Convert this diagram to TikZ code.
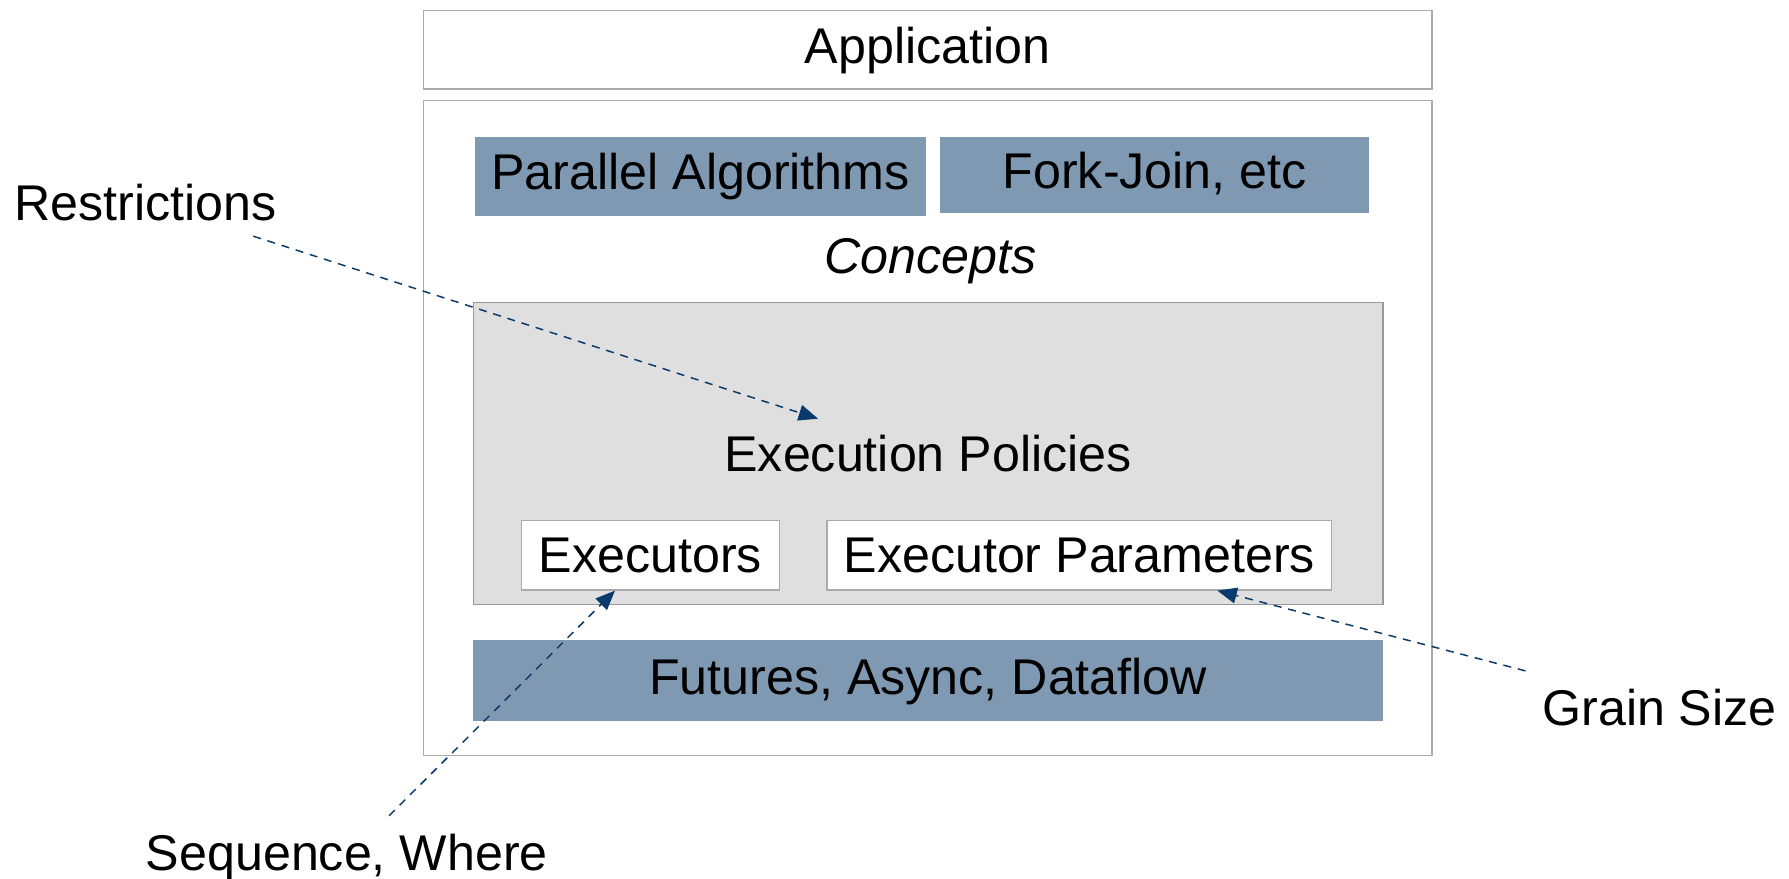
\documentclass[tikz,border=0pt]{standalone}
\usepackage{fontspec}
\setmainfont{Liberation Sans}
\usetikzlibrary{arrows.meta}
\definecolor{boxblue}{HTML}{7F99B3}
\definecolor{framegray}{HTML}{AAAAAA}
\definecolor{panelgray}{HTML}{DFDFDF}
\definecolor{panelframe}{HTML}{999999}
\definecolor{navy}{HTML}{0A3A6B}
\tikzset{
  txt/.style={font=\fontsize{44}{50}\selectfont, text height=33pt, text depth=9pt, inner sep=0pt, align=center},
  capmid/.style={text depth=2pt},
  framebox/.style={txt, draw=framegray, line width=1.3pt, fill=white},
  bluebox/.style={txt, fill=boxblue},
  panel/.style={txt, capmid, draw=panelframe, line width=1.3pt, fill=panelgray},
  conn/.style={draw=navy, line width=1.3pt, dash pattern=on 7pt off 6pt, -{Triangle[length=17pt,width=14pt]}}
}
\begin{document}
\begin{tikzpicture}[x=1pt,y=-1pt]
\useasboundingbox (0,0) rectangle (1568,770);
% application
\node[framebox, minimum width=884pt, minimum height=69pt] (app) at (813,43.5) {Application};
% outer frame
\node[framebox, minimum width=884pt, minimum height=574pt] (outer) at (813,375) {};
% top blue boxes
\node[bluebox, minimum width=396pt, minimum height=69pt] (palg) at (614,154.5) {Parallel Algorithms};
\node[bluebox, minimum width=376pt, minimum height=67pt] (fj) at (1012,153.5) {Fork-Join, etc};
% concepts
\node[txt, font=\fontsize{44}{50}\selectfont\itshape] (concepts) at (815.5,227.9) {Concepts};
% execution policies panel
\node[panel, minimum width=797pt, minimum height=265pt] (ep) at (813.5,397.5) {Execution Policies};
\node[framebox, capmid, minimum width=226pt, minimum height=61pt] (execs) at (570,486.5) {Executors};
\node[framebox, capmid, minimum width=442pt, minimum height=61pt] (exparams) at (946,486.5) {Executor Parameters};
% futures
\node[bluebox, minimum width=797pt, minimum height=71pt] (fut) at (813.5,596.5) {Futures, Async, Dataflow};
% outside labels
\node[txt] (restr) at (127.5,181.6) {Restrictions};
\node[txt] (seq) at (304,750.6) {Sequence, Where};
\node[txt] (grain) at (1454.5,623.5) {Grain Size};
% connectors
\coordinate (restrEnd) at (222,207);
\coordinate (seqEnd) at (341,715);
\coordinate (grainEnd) at (1337,588);
\coordinate (epTip) at (717,367);
\draw[conn] (restrEnd) -- (epTip);
\draw[conn] (seqEnd) -- ([xshift=-31pt]execs.south);
\draw[conn] (grainEnd) -- ([xshift=121pt]exparams.south);
\end{tikzpicture}
\end{document}
